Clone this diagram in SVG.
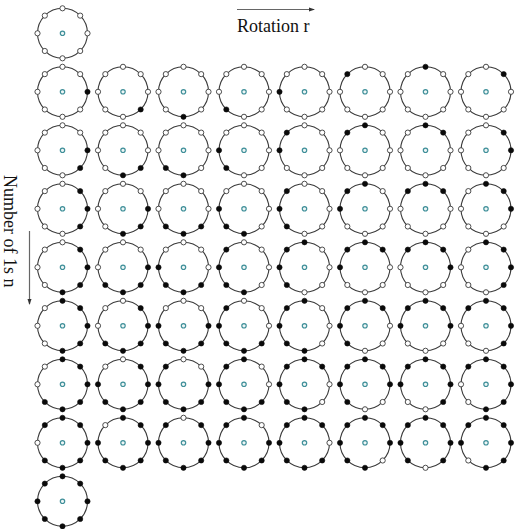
<svg xmlns="http://www.w3.org/2000/svg" xmlns:xlink="http://www.w3.org/1999/xlink" width="516" height="529" viewBox="0 0 516 529">
<style>
.rim{fill:none;stroke:#3a3a3a;stroke-width:1.1}
.hub{fill:#eef6f6;stroke:#3f8f99;stroke-width:1.2}
.w{fill:#fff;stroke:#3a3a3a;stroke-width:0.9}
.b{fill:#0a0a0a;stroke:#0a0a0a;stroke-width:0.6}
.lbl{font-family:"Liberation Serif","Times New Roman",serif;font-size:18px;fill:#111}
.ax{stroke:#666;stroke-width:1.2;fill:none}
</style>
<defs>
<marker id="ah" markerWidth="6" markerHeight="6" refX="5" refY="3" orient="auto" markerUnits="userSpaceOnUse"><path d="M0,1 L6,3 L0,5 z" fill="#333"/></marker>
<g id="ring"><circle r="25" class="rim"/><circle r="2.2" class="hub"/></g>
<circle id="p0" cx="25" cy="0" r="2.6"/>
<circle id="p1" cx="17.68" cy="17.68" r="2.6"/>
<circle id="p2" cx="0" cy="25" r="2.6"/>
<circle id="p3" cx="-17.68" cy="17.68" r="2.6"/>
<circle id="p4" cx="-25" cy="0" r="2.6"/>
<circle id="p5" cx="-17.68" cy="-17.68" r="2.6"/>
<circle id="p6" cx="0" cy="-25" r="2.6"/>
<circle id="p7" cx="17.68" cy="-17.68" r="2.6"/>
</defs>
<rect width="516" height="529" fill="#fff"/>
<g id="axes">
<line class="ax" x1="237" y1="9.5" x2="314" y2="9.5" marker-end="url(#ah)"/>
<line class="ax" x1="29.5" y1="231" x2="29.5" y2="304" marker-end="url(#ah)"/>
</g>
<text class="lbl" x="237" y="31.5">Rotation r</text>
<text class="lbl" transform="translate(4,175) rotate(90)">Number of 1s n</text>

<g id="n0" transform="translate(62.5,33.3)"><use href="#ring"/><use href="#p0" class="w"/><use href="#p1" class="w"/><use href="#p2" class="w"/><use href="#p3" class="w"/><use href="#p4" class="w"/><use href="#p5" class="w"/><use href="#p6" class="w"/><use href="#p7" class="w"/></g>

<g id="n1r0" transform="translate(62.5,91.8)"><use href="#ring"/><use href="#p0" class="b"/><use href="#p1" class="w"/><use href="#p2" class="w"/><use href="#p3" class="w"/><use href="#p4" class="w"/><use href="#p5" class="w"/><use href="#p6" class="w"/><use href="#p7" class="w"/></g>
<g id="n1r1" transform="translate(123,91.8)"><use href="#ring"/><use href="#p0" class="w"/><use href="#p1" class="b"/><use href="#p2" class="w"/><use href="#p3" class="w"/><use href="#p4" class="w"/><use href="#p5" class="w"/><use href="#p6" class="w"/><use href="#p7" class="w"/></g>
<g id="n1r2" transform="translate(183.5,91.8)"><use href="#ring"/><use href="#p0" class="w"/><use href="#p1" class="w"/><use href="#p2" class="b"/><use href="#p3" class="w"/><use href="#p4" class="w"/><use href="#p5" class="w"/><use href="#p6" class="w"/><use href="#p7" class="w"/></g>
<g id="n1r3" transform="translate(244,91.8)"><use href="#ring"/><use href="#p0" class="w"/><use href="#p1" class="w"/><use href="#p2" class="w"/><use href="#p3" class="b"/><use href="#p4" class="w"/><use href="#p5" class="w"/><use href="#p6" class="w"/><use href="#p7" class="w"/></g>
<g id="n1r4" transform="translate(304.5,91.8)"><use href="#ring"/><use href="#p0" class="w"/><use href="#p1" class="w"/><use href="#p2" class="w"/><use href="#p3" class="w"/><use href="#p4" class="b"/><use href="#p5" class="w"/><use href="#p6" class="w"/><use href="#p7" class="w"/></g>
<g id="n1r5" transform="translate(365,91.8)"><use href="#ring"/><use href="#p0" class="w"/><use href="#p1" class="w"/><use href="#p2" class="w"/><use href="#p3" class="w"/><use href="#p4" class="w"/><use href="#p5" class="b"/><use href="#p6" class="w"/><use href="#p7" class="w"/></g>
<g id="n1r6" transform="translate(425.5,91.8)"><use href="#ring"/><use href="#p0" class="w"/><use href="#p1" class="w"/><use href="#p2" class="w"/><use href="#p3" class="w"/><use href="#p4" class="w"/><use href="#p5" class="w"/><use href="#p6" class="b"/><use href="#p7" class="w"/></g>
<g id="n1r7" transform="translate(486,91.8)"><use href="#ring"/><use href="#p0" class="w"/><use href="#p1" class="w"/><use href="#p2" class="w"/><use href="#p3" class="w"/><use href="#p4" class="w"/><use href="#p5" class="w"/><use href="#p6" class="w"/><use href="#p7" class="b"/></g>

<g id="n2r0" transform="translate(62.5,150.3)"><use href="#ring"/><use href="#p0" class="b"/><use href="#p1" class="b"/><use href="#p2" class="w"/><use href="#p3" class="w"/><use href="#p4" class="w"/><use href="#p5" class="w"/><use href="#p6" class="w"/><use href="#p7" class="w"/></g>
<g id="n2r1" transform="translate(123,150.3)"><use href="#ring"/><use href="#p0" class="w"/><use href="#p1" class="b"/><use href="#p2" class="b"/><use href="#p3" class="w"/><use href="#p4" class="w"/><use href="#p5" class="w"/><use href="#p6" class="w"/><use href="#p7" class="w"/></g>
<g id="n2r2" transform="translate(183.5,150.3)"><use href="#ring"/><use href="#p0" class="w"/><use href="#p1" class="w"/><use href="#p2" class="b"/><use href="#p3" class="b"/><use href="#p4" class="w"/><use href="#p5" class="w"/><use href="#p6" class="w"/><use href="#p7" class="w"/></g>
<g id="n2r3" transform="translate(244,150.3)"><use href="#ring"/><use href="#p0" class="w"/><use href="#p1" class="w"/><use href="#p2" class="w"/><use href="#p3" class="b"/><use href="#p4" class="b"/><use href="#p5" class="w"/><use href="#p6" class="w"/><use href="#p7" class="w"/></g>
<g id="n2r4" transform="translate(304.5,150.3)"><use href="#ring"/><use href="#p0" class="w"/><use href="#p1" class="w"/><use href="#p2" class="w"/><use href="#p3" class="w"/><use href="#p4" class="b"/><use href="#p5" class="b"/><use href="#p6" class="w"/><use href="#p7" class="w"/></g>
<g id="n2r5" transform="translate(365,150.3)"><use href="#ring"/><use href="#p0" class="w"/><use href="#p1" class="w"/><use href="#p2" class="w"/><use href="#p3" class="w"/><use href="#p4" class="w"/><use href="#p5" class="b"/><use href="#p6" class="b"/><use href="#p7" class="w"/></g>
<g id="n2r6" transform="translate(425.5,150.3)"><use href="#ring"/><use href="#p0" class="w"/><use href="#p1" class="w"/><use href="#p2" class="w"/><use href="#p3" class="w"/><use href="#p4" class="w"/><use href="#p5" class="w"/><use href="#p6" class="b"/><use href="#p7" class="b"/></g>
<g id="n2r7" transform="translate(486,150.3)"><use href="#ring"/><use href="#p0" class="b"/><use href="#p1" class="w"/><use href="#p2" class="w"/><use href="#p3" class="w"/><use href="#p4" class="w"/><use href="#p5" class="w"/><use href="#p6" class="w"/><use href="#p7" class="b"/></g>

<g id="n3r0" transform="translate(62.5,208.8)"><use href="#ring"/><use href="#p0" class="b"/><use href="#p1" class="b"/><use href="#p2" class="w"/><use href="#p3" class="w"/><use href="#p4" class="w"/><use href="#p5" class="w"/><use href="#p6" class="w"/><use href="#p7" class="b"/></g>
<g id="n3r1" transform="translate(123,208.8)"><use href="#ring"/><use href="#p0" class="b"/><use href="#p1" class="b"/><use href="#p2" class="b"/><use href="#p3" class="w"/><use href="#p4" class="w"/><use href="#p5" class="w"/><use href="#p6" class="w"/><use href="#p7" class="w"/></g>
<g id="n3r2" transform="translate(183.5,208.8)"><use href="#ring"/><use href="#p0" class="w"/><use href="#p1" class="b"/><use href="#p2" class="b"/><use href="#p3" class="b"/><use href="#p4" class="w"/><use href="#p5" class="w"/><use href="#p6" class="w"/><use href="#p7" class="w"/></g>
<g id="n3r3" transform="translate(244,208.8)"><use href="#ring"/><use href="#p0" class="w"/><use href="#p1" class="w"/><use href="#p2" class="b"/><use href="#p3" class="b"/><use href="#p4" class="b"/><use href="#p5" class="w"/><use href="#p6" class="w"/><use href="#p7" class="w"/></g>
<g id="n3r4" transform="translate(304.5,208.8)"><use href="#ring"/><use href="#p0" class="w"/><use href="#p1" class="w"/><use href="#p2" class="w"/><use href="#p3" class="b"/><use href="#p4" class="b"/><use href="#p5" class="b"/><use href="#p6" class="w"/><use href="#p7" class="w"/></g>
<g id="n3r5" transform="translate(365,208.8)"><use href="#ring"/><use href="#p0" class="w"/><use href="#p1" class="w"/><use href="#p2" class="w"/><use href="#p3" class="w"/><use href="#p4" class="b"/><use href="#p5" class="b"/><use href="#p6" class="b"/><use href="#p7" class="w"/></g>
<g id="n3r6" transform="translate(425.5,208.8)"><use href="#ring"/><use href="#p0" class="w"/><use href="#p1" class="w"/><use href="#p2" class="w"/><use href="#p3" class="w"/><use href="#p4" class="w"/><use href="#p5" class="b"/><use href="#p6" class="b"/><use href="#p7" class="b"/></g>
<g id="n3r7" transform="translate(486,208.8)"><use href="#ring"/><use href="#p0" class="b"/><use href="#p1" class="w"/><use href="#p2" class="w"/><use href="#p3" class="w"/><use href="#p4" class="w"/><use href="#p5" class="w"/><use href="#p6" class="b"/><use href="#p7" class="b"/></g>

<g id="n4r0" transform="translate(62.5,267.3)"><use href="#ring"/><use href="#p0" class="b"/><use href="#p1" class="b"/><use href="#p2" class="b"/><use href="#p3" class="w"/><use href="#p4" class="w"/><use href="#p5" class="w"/><use href="#p6" class="w"/><use href="#p7" class="b"/></g>
<g id="n4r1" transform="translate(123,267.3)"><use href="#ring"/><use href="#p0" class="b"/><use href="#p1" class="b"/><use href="#p2" class="b"/><use href="#p3" class="b"/><use href="#p4" class="w"/><use href="#p5" class="w"/><use href="#p6" class="w"/><use href="#p7" class="w"/></g>
<g id="n4r2" transform="translate(183.5,267.3)"><use href="#ring"/><use href="#p0" class="w"/><use href="#p1" class="b"/><use href="#p2" class="b"/><use href="#p3" class="b"/><use href="#p4" class="b"/><use href="#p5" class="w"/><use href="#p6" class="w"/><use href="#p7" class="w"/></g>
<g id="n4r3" transform="translate(244,267.3)"><use href="#ring"/><use href="#p0" class="w"/><use href="#p1" class="w"/><use href="#p2" class="b"/><use href="#p3" class="b"/><use href="#p4" class="b"/><use href="#p5" class="b"/><use href="#p6" class="w"/><use href="#p7" class="w"/></g>
<g id="n4r4" transform="translate(304.5,267.3)"><use href="#ring"/><use href="#p0" class="w"/><use href="#p1" class="w"/><use href="#p2" class="w"/><use href="#p3" class="b"/><use href="#p4" class="b"/><use href="#p5" class="b"/><use href="#p6" class="b"/><use href="#p7" class="w"/></g>
<g id="n4r5" transform="translate(365,267.3)"><use href="#ring"/><use href="#p0" class="w"/><use href="#p1" class="w"/><use href="#p2" class="w"/><use href="#p3" class="w"/><use href="#p4" class="b"/><use href="#p5" class="b"/><use href="#p6" class="b"/><use href="#p7" class="b"/></g>
<g id="n4r6" transform="translate(425.5,267.3)"><use href="#ring"/><use href="#p0" class="b"/><use href="#p1" class="w"/><use href="#p2" class="w"/><use href="#p3" class="w"/><use href="#p4" class="w"/><use href="#p5" class="b"/><use href="#p6" class="b"/><use href="#p7" class="b"/></g>
<g id="n4r7" transform="translate(486,267.3)"><use href="#ring"/><use href="#p0" class="b"/><use href="#p1" class="b"/><use href="#p2" class="w"/><use href="#p3" class="w"/><use href="#p4" class="w"/><use href="#p5" class="w"/><use href="#p6" class="b"/><use href="#p7" class="b"/></g>

<g id="n5r0" transform="translate(62.5,325.8)"><use href="#ring"/><use href="#p0" class="b"/><use href="#p1" class="b"/><use href="#p2" class="b"/><use href="#p3" class="w"/><use href="#p4" class="w"/><use href="#p5" class="w"/><use href="#p6" class="b"/><use href="#p7" class="b"/></g>
<g id="n5r1" transform="translate(123,325.8)"><use href="#ring"/><use href="#p0" class="b"/><use href="#p1" class="b"/><use href="#p2" class="b"/><use href="#p3" class="b"/><use href="#p4" class="w"/><use href="#p5" class="w"/><use href="#p6" class="w"/><use href="#p7" class="b"/></g>
<g id="n5r2" transform="translate(183.5,325.8)"><use href="#ring"/><use href="#p0" class="b"/><use href="#p1" class="b"/><use href="#p2" class="b"/><use href="#p3" class="b"/><use href="#p4" class="b"/><use href="#p5" class="w"/><use href="#p6" class="w"/><use href="#p7" class="w"/></g>
<g id="n5r3" transform="translate(244,325.8)"><use href="#ring"/><use href="#p0" class="w"/><use href="#p1" class="b"/><use href="#p2" class="b"/><use href="#p3" class="b"/><use href="#p4" class="b"/><use href="#p5" class="b"/><use href="#p6" class="w"/><use href="#p7" class="w"/></g>
<g id="n5r4" transform="translate(304.5,325.8)"><use href="#ring"/><use href="#p0" class="w"/><use href="#p1" class="w"/><use href="#p2" class="b"/><use href="#p3" class="b"/><use href="#p4" class="b"/><use href="#p5" class="b"/><use href="#p6" class="b"/><use href="#p7" class="w"/></g>
<g id="n5r5" transform="translate(365,325.8)"><use href="#ring"/><use href="#p0" class="w"/><use href="#p1" class="w"/><use href="#p2" class="w"/><use href="#p3" class="b"/><use href="#p4" class="b"/><use href="#p5" class="b"/><use href="#p6" class="b"/><use href="#p7" class="b"/></g>
<g id="n5r6" transform="translate(425.5,325.8)"><use href="#ring"/><use href="#p0" class="b"/><use href="#p1" class="w"/><use href="#p2" class="w"/><use href="#p3" class="w"/><use href="#p4" class="b"/><use href="#p5" class="b"/><use href="#p6" class="b"/><use href="#p7" class="b"/></g>
<g id="n5r7" transform="translate(486,325.8)"><use href="#ring"/><use href="#p0" class="b"/><use href="#p1" class="b"/><use href="#p2" class="w"/><use href="#p3" class="w"/><use href="#p4" class="w"/><use href="#p5" class="b"/><use href="#p6" class="b"/><use href="#p7" class="b"/></g>

<g id="n6r0" transform="translate(62.5,384.3)"><use href="#ring"/><use href="#p0" class="b"/><use href="#p1" class="b"/><use href="#p2" class="b"/><use href="#p3" class="b"/><use href="#p4" class="w"/><use href="#p5" class="w"/><use href="#p6" class="b"/><use href="#p7" class="b"/></g>
<g id="n6r1" transform="translate(123,384.3)"><use href="#ring"/><use href="#p0" class="b"/><use href="#p1" class="b"/><use href="#p2" class="b"/><use href="#p3" class="b"/><use href="#p4" class="b"/><use href="#p5" class="w"/><use href="#p6" class="w"/><use href="#p7" class="b"/></g>
<g id="n6r2" transform="translate(183.5,384.3)"><use href="#ring"/><use href="#p0" class="b"/><use href="#p1" class="b"/><use href="#p2" class="b"/><use href="#p3" class="b"/><use href="#p4" class="b"/><use href="#p5" class="b"/><use href="#p6" class="w"/><use href="#p7" class="w"/></g>
<g id="n6r3" transform="translate(244,384.3)"><use href="#ring"/><use href="#p0" class="w"/><use href="#p1" class="b"/><use href="#p2" class="b"/><use href="#p3" class="b"/><use href="#p4" class="b"/><use href="#p5" class="b"/><use href="#p6" class="b"/><use href="#p7" class="w"/></g>
<g id="n6r4" transform="translate(304.5,384.3)"><use href="#ring"/><use href="#p0" class="w"/><use href="#p1" class="w"/><use href="#p2" class="b"/><use href="#p3" class="b"/><use href="#p4" class="b"/><use href="#p5" class="b"/><use href="#p6" class="b"/><use href="#p7" class="b"/></g>
<g id="n6r5" transform="translate(365,384.3)"><use href="#ring"/><use href="#p0" class="b"/><use href="#p1" class="w"/><use href="#p2" class="w"/><use href="#p3" class="b"/><use href="#p4" class="b"/><use href="#p5" class="b"/><use href="#p6" class="b"/><use href="#p7" class="b"/></g>
<g id="n6r6" transform="translate(425.5,384.3)"><use href="#ring"/><use href="#p0" class="b"/><use href="#p1" class="b"/><use href="#p2" class="w"/><use href="#p3" class="w"/><use href="#p4" class="b"/><use href="#p5" class="b"/><use href="#p6" class="b"/><use href="#p7" class="b"/></g>
<g id="n6r7" transform="translate(486,384.3)"><use href="#ring"/><use href="#p0" class="b"/><use href="#p1" class="b"/><use href="#p2" class="b"/><use href="#p3" class="w"/><use href="#p4" class="w"/><use href="#p5" class="b"/><use href="#p6" class="b"/><use href="#p7" class="b"/></g>

<g id="n7r0" transform="translate(62.5,442.8)"><use href="#ring"/><use href="#p0" class="b"/><use href="#p1" class="b"/><use href="#p2" class="b"/><use href="#p3" class="b"/><use href="#p4" class="w"/><use href="#p5" class="b"/><use href="#p6" class="b"/><use href="#p7" class="b"/></g>
<g id="n7r1" transform="translate(123,442.8)"><use href="#ring"/><use href="#p0" class="b"/><use href="#p1" class="b"/><use href="#p2" class="b"/><use href="#p3" class="b"/><use href="#p4" class="b"/><use href="#p5" class="w"/><use href="#p6" class="b"/><use href="#p7" class="b"/></g>
<g id="n7r2" transform="translate(183.5,442.8)"><use href="#ring"/><use href="#p0" class="b"/><use href="#p1" class="b"/><use href="#p2" class="b"/><use href="#p3" class="b"/><use href="#p4" class="b"/><use href="#p5" class="b"/><use href="#p6" class="w"/><use href="#p7" class="b"/></g>
<g id="n7r3" transform="translate(244,442.8)"><use href="#ring"/><use href="#p0" class="b"/><use href="#p1" class="b"/><use href="#p2" class="b"/><use href="#p3" class="b"/><use href="#p4" class="b"/><use href="#p5" class="b"/><use href="#p6" class="b"/><use href="#p7" class="w"/></g>
<g id="n7r4" transform="translate(304.5,442.8)"><use href="#ring"/><use href="#p0" class="w"/><use href="#p1" class="b"/><use href="#p2" class="b"/><use href="#p3" class="b"/><use href="#p4" class="b"/><use href="#p5" class="b"/><use href="#p6" class="b"/><use href="#p7" class="b"/></g>
<g id="n7r5" transform="translate(365,442.8)"><use href="#ring"/><use href="#p0" class="b"/><use href="#p1" class="w"/><use href="#p2" class="b"/><use href="#p3" class="b"/><use href="#p4" class="b"/><use href="#p5" class="b"/><use href="#p6" class="b"/><use href="#p7" class="b"/></g>
<g id="n7r6" transform="translate(425.5,442.8)"><use href="#ring"/><use href="#p0" class="b"/><use href="#p1" class="b"/><use href="#p2" class="w"/><use href="#p3" class="b"/><use href="#p4" class="b"/><use href="#p5" class="b"/><use href="#p6" class="b"/><use href="#p7" class="b"/></g>
<g id="n7r7" transform="translate(486,442.8)"><use href="#ring"/><use href="#p0" class="b"/><use href="#p1" class="b"/><use href="#p2" class="b"/><use href="#p3" class="w"/><use href="#p4" class="b"/><use href="#p5" class="b"/><use href="#p6" class="b"/><use href="#p7" class="b"/></g>

<g id="n8" transform="translate(62.5,501.3)"><use href="#ring"/><use href="#p0" class="b"/><use href="#p1" class="b"/><use href="#p2" class="b"/><use href="#p3" class="b"/><use href="#p4" class="b"/><use href="#p5" class="b"/><use href="#p6" class="b"/><use href="#p7" class="b"/></g>
</svg>
